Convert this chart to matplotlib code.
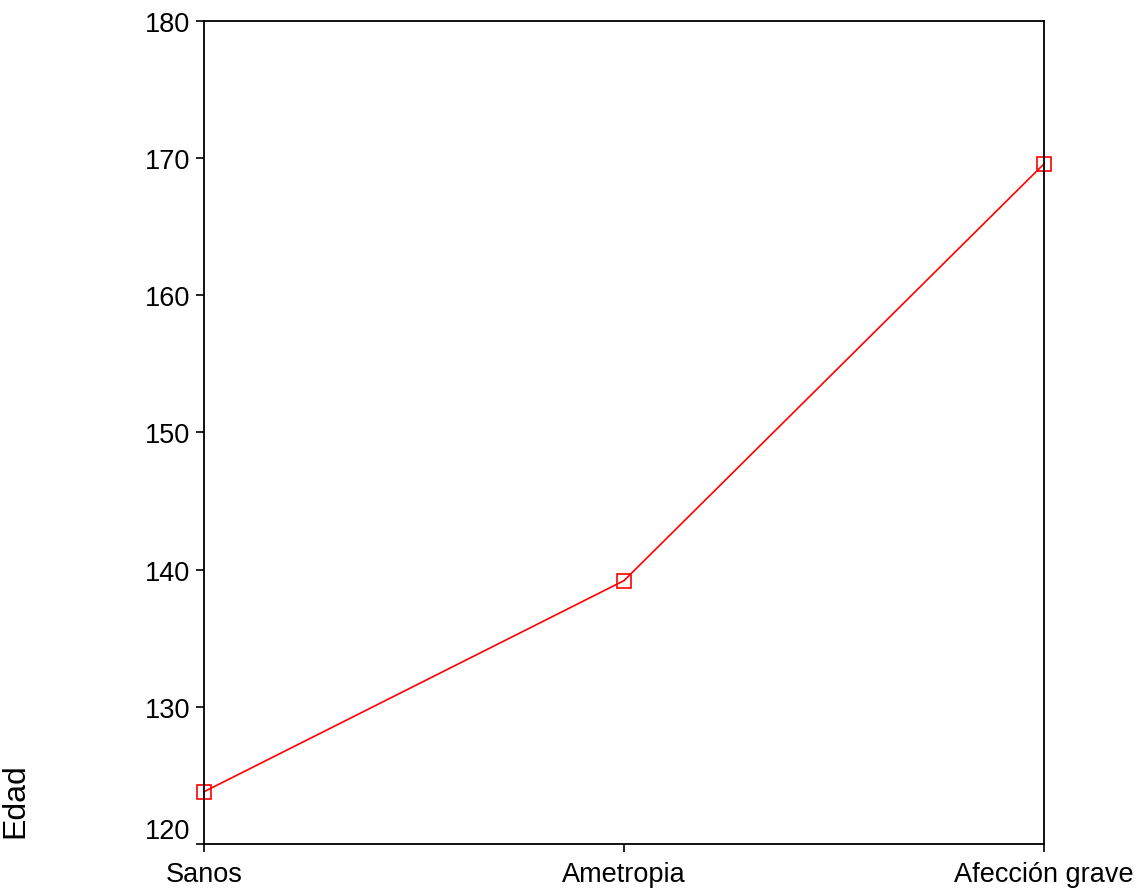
import numpy as np
import matplotlib.pyplot as plt

# data
grupos = ['Sanos', 'Ametropia', 'Afección grave']
edad_media = [123.8, 139.2, 169.6]
y_ticks = [120, 130, 140, 150, 160, 170, 180]

plt.rc('font', family=['Liberation Sans', 'DejaVu Sans'], size=19.5)

fig = plt.figure(figsize=(11.45, 8.95), dpi=100)
ax = fig.add_axes([0.178, 0.0559, 0.734, 0.9195])

x = np.arange(len(grupos))
ax.plot(x, edad_media, color='red', linewidth=1.2, marker='s', markersize=9.5,
        markerfacecolor='none', markeredgecolor='red', markeredgewidth=1.2, clip_on=False)

ax.set_xlim(0, len(grupos) - 1)
ax.set_ylim(120, 180)
ax.set_xticks(x)
ax.set_xticklabels(grupos)
ax.set_yticks(y_ticks)

ax.tick_params(direction='out', length=6, width=1.2, color='black', pad=4)
ax.tick_params(axis='x', pad=6)
for sp in ax.spines.values():
    sp.set_linewidth(1.3)
    sp.set_color('black')

# lowest label sits above its tick like in the source
ax.get_yticklabels()[0].set_verticalalignment('bottom')

# axis title down at the left edge, as in the source
fig.text(0.013, 0.105, 'Edad', rotation=90, ha='center', va='center', fontsize=23)

fig.savefig('out.png', dpi=100)
